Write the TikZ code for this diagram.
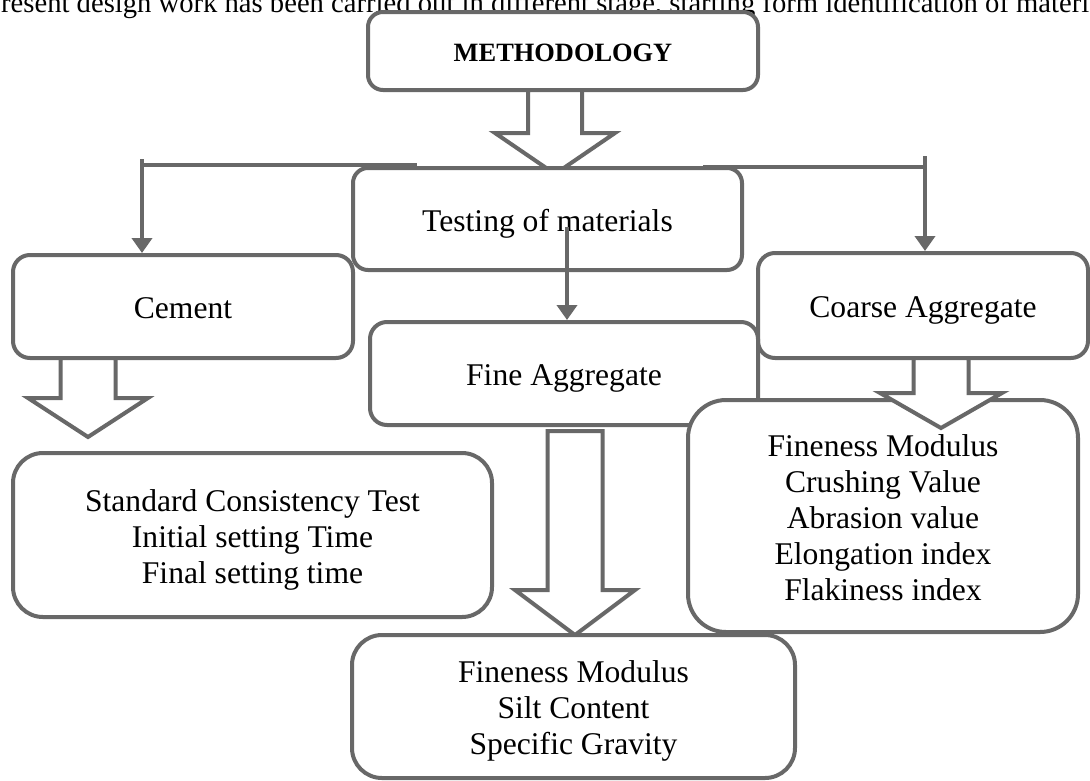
\documentclass[tikz,border=0pt]{standalone}
\usepackage{fontspec}
\setmainfont{Liberation Serif}
\usetikzlibrary{arrows.meta,calc}
\definecolor{lg}{RGB}{104,104,104}
\tikzset{
  box/.style={draw=lg, line width=4pt, fill=white, rounded corners=#1, inner sep=0pt,
    font=\fontsize{31.6}{36}\selectfont},
  box/.default=15pt,
  conn/.style={draw=lg, line width=4pt},
  arr/.style={conn, -{Triangle[width=20pt,length=15pt]}},
  blk/.style={draw=lg, line width=4pt, fill=white, line join=miter},
}
\newcommand\lowtxt[1]{\raisebox{-5pt}[\height][\depth]{\begin{tabular}{@{}c@{}}#1\end{tabular}}}
\newcommand\blockarrow[5]{%
  \draw[blk] let \p1=(#1), \p2=(#2) in
    (\x1-#3pt,\y1) -- (\x1-#3pt,\y2+#5pt) -- (\x1-#4pt,\y2+#5pt) -- (\x1,\y2)
    -- (\x1+#4pt,\y2+#5pt) -- (\x1+#3pt,\y2+#5pt) -- (\x1+#3pt,\y1) -- cycle;}
\begin{document}
\begin{tikzpicture}[x=1pt,y=-1pt]
\useasboundingbox[fill=white] (0,0) rectangle (1090,780);

% cut-off line of text at the top
\node[anchor=base west, inner sep=0pt] (toptext) at (1,12)
  {\resizebox{1088pt}{!}{\fontsize{26}{30}\selectfont resent design work has been carried out in different stage, starting form identification of materi}};

% METHODOLOGY
\node[box, minimum width=390pt, minimum height=78pt] (meth) at (563,51)
  {\raisebox{-2pt}[\height][\depth]{\fontsize{26.4}{30}\selectfont\bfseries METHODOLOGY}};
\coordinate (ma1) at (555,90);
\coordinate (ma2) at (555,174);
\blockarrow{ma1}{ma2}{27}{60}{41}

% branch lines
\coordinate (Lh) at (417,165);
\coordinate (Ltop) at (142,159);
\coordinate (Rh) at (703,167);
\coordinate (Rtop) at (925,156);

% boxes of second level
\node[box, minimum width=389pt, minimum height=102pt] (test) at (547.5,219) {\lowtxt{Testing of materials}};
\node[box=17pt, minimum width=340pt, minimum height=103pt] (cement) at (183,306.5) {\lowtxt{Cement}};
\node[box=17pt, minimum width=330pt, minimum height=105pt] (coarse) at (923,305.5) {\lowtxt{Coarse Aggregate}};
\node[box=17pt, minimum width=388pt, minimum height=103pt] (fine) at (564,373.5) {\lowtxt{Fine Aggregate}};

\draw[conn] (Lh) -- (Lh -| Ltop);
\draw[arr] (Ltop) -- (Ltop |- cement.north);
\draw[conn] (Rh) -- (Rh -| Rtop);
\draw[arr] (Rtop) -- (Rtop |- coarse.north);

\coordinate (Ctop) at (567,227);
\draw[arr] (Ctop) -- (Ctop |- fine.north);

% coarse aggregate tests
\node[box=38pt, minimum width=390pt, minimum height=232pt] (coarsetests) at (883,516)
  {\lowtxt{Fineness Modulus\\Crushing Value\\Abrasion value\\Elongation index\\Flakiness index}};
\coordinate (ka1) at (941,358);
\coordinate (ka2) at (941,428);
\blockarrow{ka1}{ka2}{27.5}{61}{35}

% cement tests
\coordinate (ca1) at (88,358);
\coordinate (ca2) at (88,437);
\blockarrow{ca1}{ca2}{27.5}{60}{39}
\node[box=30pt, minimum width=479pt, minimum height=164pt] (cementtests) at (252.5,535)
  {\lowtxt{Standard Consistency Test\\Initial setting Time\\Final setting time}};

% fine aggregate tests
\coordinate (fa1) at (575,431);
\coordinate (fa2) at (575,635);
\blockarrow{fa1}{fa2}{27.5}{60}{45}
\node[box=30pt, minimum width=443pt, minimum height=143pt] (finetests) at (573.5,706.5)
  {\lowtxt{Fineness Modulus\\Silt Content\\Specific Gravity}};
\end{tikzpicture}
\end{document}
